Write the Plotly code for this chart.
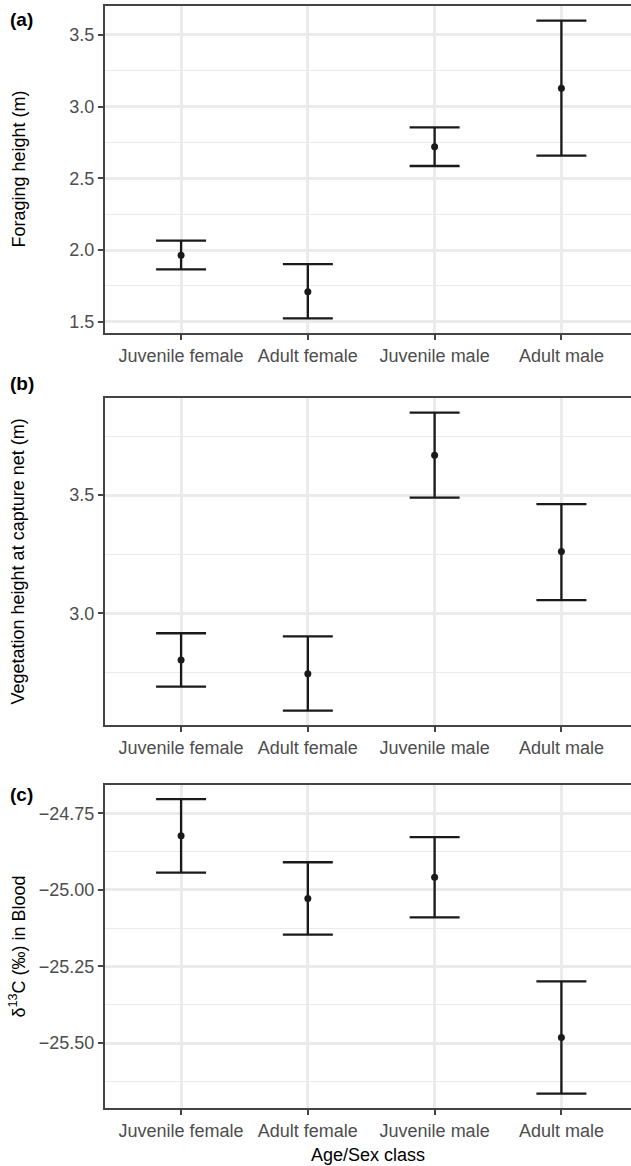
import plotly.graph_objects as go

categories = ["Juvenile female", "Adult female", "Juvenile male", "Adult male"]

# (a) Foraging height (m)
a_mean = [1.963, 1.709, 2.721, 3.128]
a_lower = [1.865, 1.523, 2.586, 2.658]
a_upper = [2.065, 1.902, 2.856, 3.600]

# (b) Vegetation height at capture net (m)
b_mean = [2.803, 2.745, 3.669, 3.262]
b_lower = [2.690, 2.589, 3.490, 3.056]
b_upper = [2.916, 2.903, 3.849, 3.462]

# (c) d13C in blood
c_mean = [-24.824, -25.028, -24.959, -25.482]
c_lower = [-24.944, -25.146, -25.090, -25.665]
c_upper = [-24.704, -24.910, -24.828, -25.299]

W, H = 631, 1166
FONT = "Liberation Sans, Arial, Helvetica, sans-serif"
GRID = "#EBEBEB"
BORDER = "#444444"
TICKC = "#4D4D4D"

panels = [
    dict(top=6, bottom=333, mean=a_mean, lo=a_lower, hi=a_upper,
         yrange=[1.421, 3.702], dtick=0.5, tick0=1.5, fmt=".1f",
         title="Foraging height (m)", label="(a)", label_y=20),
    dict(top=398, bottom=725, mean=b_mean, lo=b_lower, hi=b_upper,
         yrange=[2.528, 3.911], dtick=0.5, tick0=3.0, fmt=".1f",
         title="Vegetation height at capture net (m)", label="(b)", label_y=383),
    dict(top=785, bottom=1108, mean=c_mean, lo=c_lower, hi=c_upper,
         yrange=[-25.712, -24.658], dtick=0.25, tick0=-25.5, fmt=".2f",
         title="δ<sup>13</sup>C (‰) in Blood", label="(c)", label_y=795),
]

fig = go.Figure()
annotations = []
for i, p in enumerate(panels):
    n = "" if i == 0 else str(i + 1)
    xa = "x" + n
    ya = "y" + n
    err_plus = [h - m for h, m in zip(p["hi"], p["mean"])]
    err_minus = [m - l for m, l in zip(p["mean"], p["lo"])]
    fig.add_trace(go.Scatter(
        x=categories, y=p["mean"], mode="markers",
        marker=dict(color="#1A1A1A", size=7),
        error_y=dict(type="data", array=err_plus, arrayminus=err_minus,
                     symmetric=False, color="#1A1A1A", thickness=2.3, width=25),
        xaxis=xa, yaxis=ya, showlegend=False,
    ))
    dom = [1 - p["bottom"] / H, 1 - p["top"] / H]
    xkey = "xaxis" + n
    ykey = "yaxis" + n
    fig.layout[xkey] = dict(
        domain=[105 / W, 1.0], anchor=ya, type="category",
        categoryorder="array", categoryarray=categories,
        range=[-0.6, 3.549], showgrid=True, gridcolor=GRID, gridwidth=2.5,
        showline=True, mirror=True, linecolor=BORDER, linewidth=2,
        ticks="outside", ticklen=5, tickwidth=2, tickcolor=BORDER,
        tickfont=dict(family=FONT, size=18, color=TICKC), zeroline=False,
        fixedrange=True,
    )
    fig.layout[ykey] = dict(
        domain=dom, anchor=xa, range=p["yrange"],
        tick0=p["tick0"], dtick=p["dtick"], tickformat=p["fmt"],
        showgrid=True, gridcolor=GRID, gridwidth=2.5,
        minor=dict(tick0=p["tick0"], dtick=p["dtick"] / 2, showgrid=True,
                   gridcolor=GRID, gridwidth=1.2),
        showline=True, mirror=False, linecolor=BORDER, linewidth=2,
        ticks="outside", ticklen=5, tickwidth=2, tickcolor=BORDER,
        tickfont=dict(family=FONT, size=18, color=TICKC), zeroline=False,
        fixedrange=True,
    )
    annotations.append(dict(
        text=p["title"], textangle=-90, xref="paper", yref="paper",
        x=18 / W, y=1 - ((p["top"] + p["bottom"]) / 2) / H,
        xanchor="center", yanchor="middle", showarrow=False,
        font=dict(family=FONT, size=18, color="#000000"),
    ))
    annotations.append(dict(
        text="<b>" + p["label"] + "</b>", xref="paper", yref="paper",
        x=8 / W, y=1 - p["label_y"] / H, xanchor="left", yanchor="middle",
        showarrow=False, font=dict(family=FONT, size=19, color="#000000"),
    ))

annotations.append(dict(
    text="Age/Sex class", xref="paper", yref="paper",
    x=368 / W, y=1 - 1155 / H, xanchor="center", yanchor="middle",
    showarrow=False, font=dict(family=FONT, size=18, color="#000000"),
))

fig.update_layout(
    width=W, height=H, margin=dict(l=0, r=0, t=0, b=0),
    paper_bgcolor="white", plot_bgcolor="white",
    annotations=annotations, showlegend=False,
)

fig.write_html(
    "out.html",
    config={"displayModeBar": False},
    post_script="document.body.style.margin='0';document.body.style.overflow='hidden';",
)
